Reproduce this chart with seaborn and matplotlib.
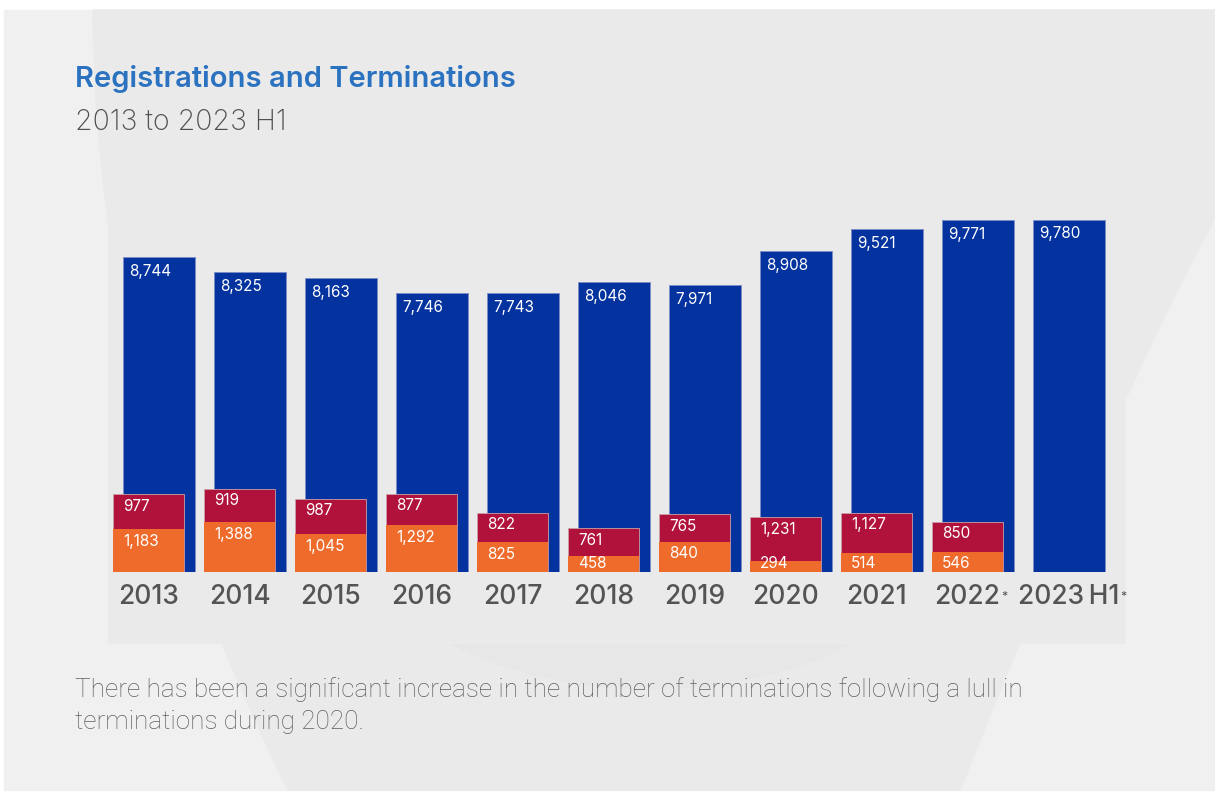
import matplotlib
matplotlib.use("Agg")
import numpy as np
import pandas as pd
import seaborn as sns
import matplotlib.pyplot as plt
from matplotlib.patches import Rectangle, Polygon, Circle

sns.set_theme(style="white")
plt.rcParams["font.family"] = ["Inter", "DejaVu Sans"]

years = ["2013", "2014", "2015", "2016", "2017", "2018", "2019", "2020", "2021", "2022", "2023 H1"]
tick_labels = ["2013", "2014", "2015", "2016", "2017", "2018", "2019", "2020", "2021",
               "2022", "2023\u2009H1"]
starred = [False] * 9 + [True, True]
registrations = [8744, 8325, 8163, 7746, 7743, 8046, 7971, 8908, 9521, 9771, 9780]
# terminations only available up to 2022, split in two parts
term_years = years[:10]
red_segment = [977, 919, 987, 877, 822, 761, 765, 1231, 1127, 850]
orange_segment = [1183, 1388, 1045, 1292, 825, 458, 840, 294, 514, 546]

BLUE = "#0433A0"
RED = "#B0123B"
ORANGE = "#EE6B2C"
W, H = 1215, 794

df_reg = pd.DataFrame({"year": years, "value": registrations})
df_term = pd.DataFrame({"year": term_years, "red": red_segment, "orange": orange_segment})
df_term["total"] = df_term["red"] + df_term["orange"]

fig = plt.figure(figsize=(W / 100, H / 100), dpi=100, facecolor="white")


def fx(x):
    return x / W


def fy(y):
    return 1 - y / H


# background panel with soft decorative shapes
fig.add_artist(Rectangle((fx(4), fy(790)), fx(1211), 780 / H, transform=fig.transFigure,
                         color="#F0F0F0", zorder=0))
ys = np.linspace(10, 790, 60)
left_edge = [(fx(93 + 197 * (y / 794) ** 2), fy(y)) for y in ys]
ys_r = np.linspace(790, 150, 60)
right_edge = [(fx(min(1215, 1260 - 300 * ((y - 150) / 640) ** 0.85)), fy(y)) for y in ys_r]
shape = left_edge + right_edge + [(fx(1215), fy(10))]
fig.add_artist(Polygon(shape, closed=True, transform=fig.transFigure, color="#EAEAEA", zorder=0))
fig.add_artist(Circle((fx(651), fy(475)), fx(327), transform=fig.transFigure,
                      color="#E7E7E7", zorder=0))
fig.add_artist(Rectangle((fx(108), fy(643)), fx(1016), 493 / H, transform=fig.transFigure,
                         color="#EAEAEA", zorder=0))

ax = fig.add_axes([fx(100), fy(572), fx(1030), (572 - 150) / H])
ax.patch.set_alpha(0)

sns.barplot(data=df_reg, x="year", y="value", order=years, color=BLUE, saturation=1,
            width=0.79, edgecolor="#7C8CC4", linewidth=0.6, ax=ax, errorbar=None)
n_blue = len(ax.patches)
sns.barplot(data=df_term, x="year", y="total", order=years, color=RED, saturation=1,
            width=0.78, edgecolor="#C9A0A8", linewidth=0.6, ax=ax, errorbar=None)
sns.barplot(data=df_term, x="year", y="orange", order=years, color=ORANGE, saturation=1,
            width=0.78, linewidth=0, ax=ax, errorbar=None)

shift = -0.115
overlay = ax.patches[n_blue:]
for p in overlay:
    p.set_x(p.get_x() + shift)

blue_bars = ax.patches[:n_blue]
red_bars = overlay[:len(term_years)]
orange_bars = overlay[len(term_years):]

ax.set_xlim((100 - 159) / 91, (1130 - 159) / 91)
ax.set_ylim(0, 422 / 0.036)
px_per_unit = 422 / ax.get_ylim()[1]

lab_kw = dict(textcoords="offset pixels", ha="left", va="center", color="white", fontsize=11)
for p, v in zip(blue_bars, registrations):
    ax.annotate(f"{v:,}", (p.get_x(), p.get_height()), xytext=(6, -14), **lab_kw)
for p, v in zip(red_bars, red_segment):
    ax.annotate(f"{v:,}", (p.get_x(), p.get_height()), xytext=(10, -12), **lab_kw)
for p, v in zip(orange_bars, orange_segment):
    up = max(p.get_height() * px_per_unit - 12, 9)
    ax.annotate(f"{v:,}", (p.get_x(), 0), xytext=(10, up), **lab_kw)

# labels sit under the overlay where there is one, else under the blue bar
tick_pos = [i + (shift if y in term_years else 0) for i, y in enumerate(years)]
ax.set_xticks(tick_pos)
ax.set_xticklabels(tick_labels, fontsize=19, color="#545454", fontweight="medium")
ax.tick_params(axis="x", length=0, pad=9)
ax.set_yticks([])
ax.set_xlabel("")
ax.set_ylabel("")
sns.despine(ax=ax, left=True, bottom=True)

# tiny asterisks after the provisional years
fig.canvas.draw()
renderer = fig.canvas.get_renderer()
for lbl, star in zip(ax.get_xticklabels(), starred):
    if star:
        bb = lbl.get_window_extent(renderer)
        fig.text(bb.x1 / W + fx(1), bb.y1 / H - 6 / H, "*", fontsize=9, color="#545454",
                 ha="left", va="top")

fig.text(fx(75), fy(87), "Registrations and Terminations", color="#2B72C0",
         fontsize=21, fontweight="semibold", va="baseline")
fig.text(fx(75), fy(130), "2013 to 2023 H1", color="#505050", fontsize=20.5,
         fontweight="light", va="baseline")
note_kw = dict(color="#606060", fontsize=18.8, fontweight="light", va="baseline",
               family=["Roboto", "DejaVu Sans"])
fig.text(fx(75), fy(697), "There has been a significant increase in the number of terminations following a lull in",
         **note_kw)
fig.text(fx(75), fy(729), "terminations during 2020.", **note_kw)

fig.savefig("out.png", dpi=100, facecolor="white")
